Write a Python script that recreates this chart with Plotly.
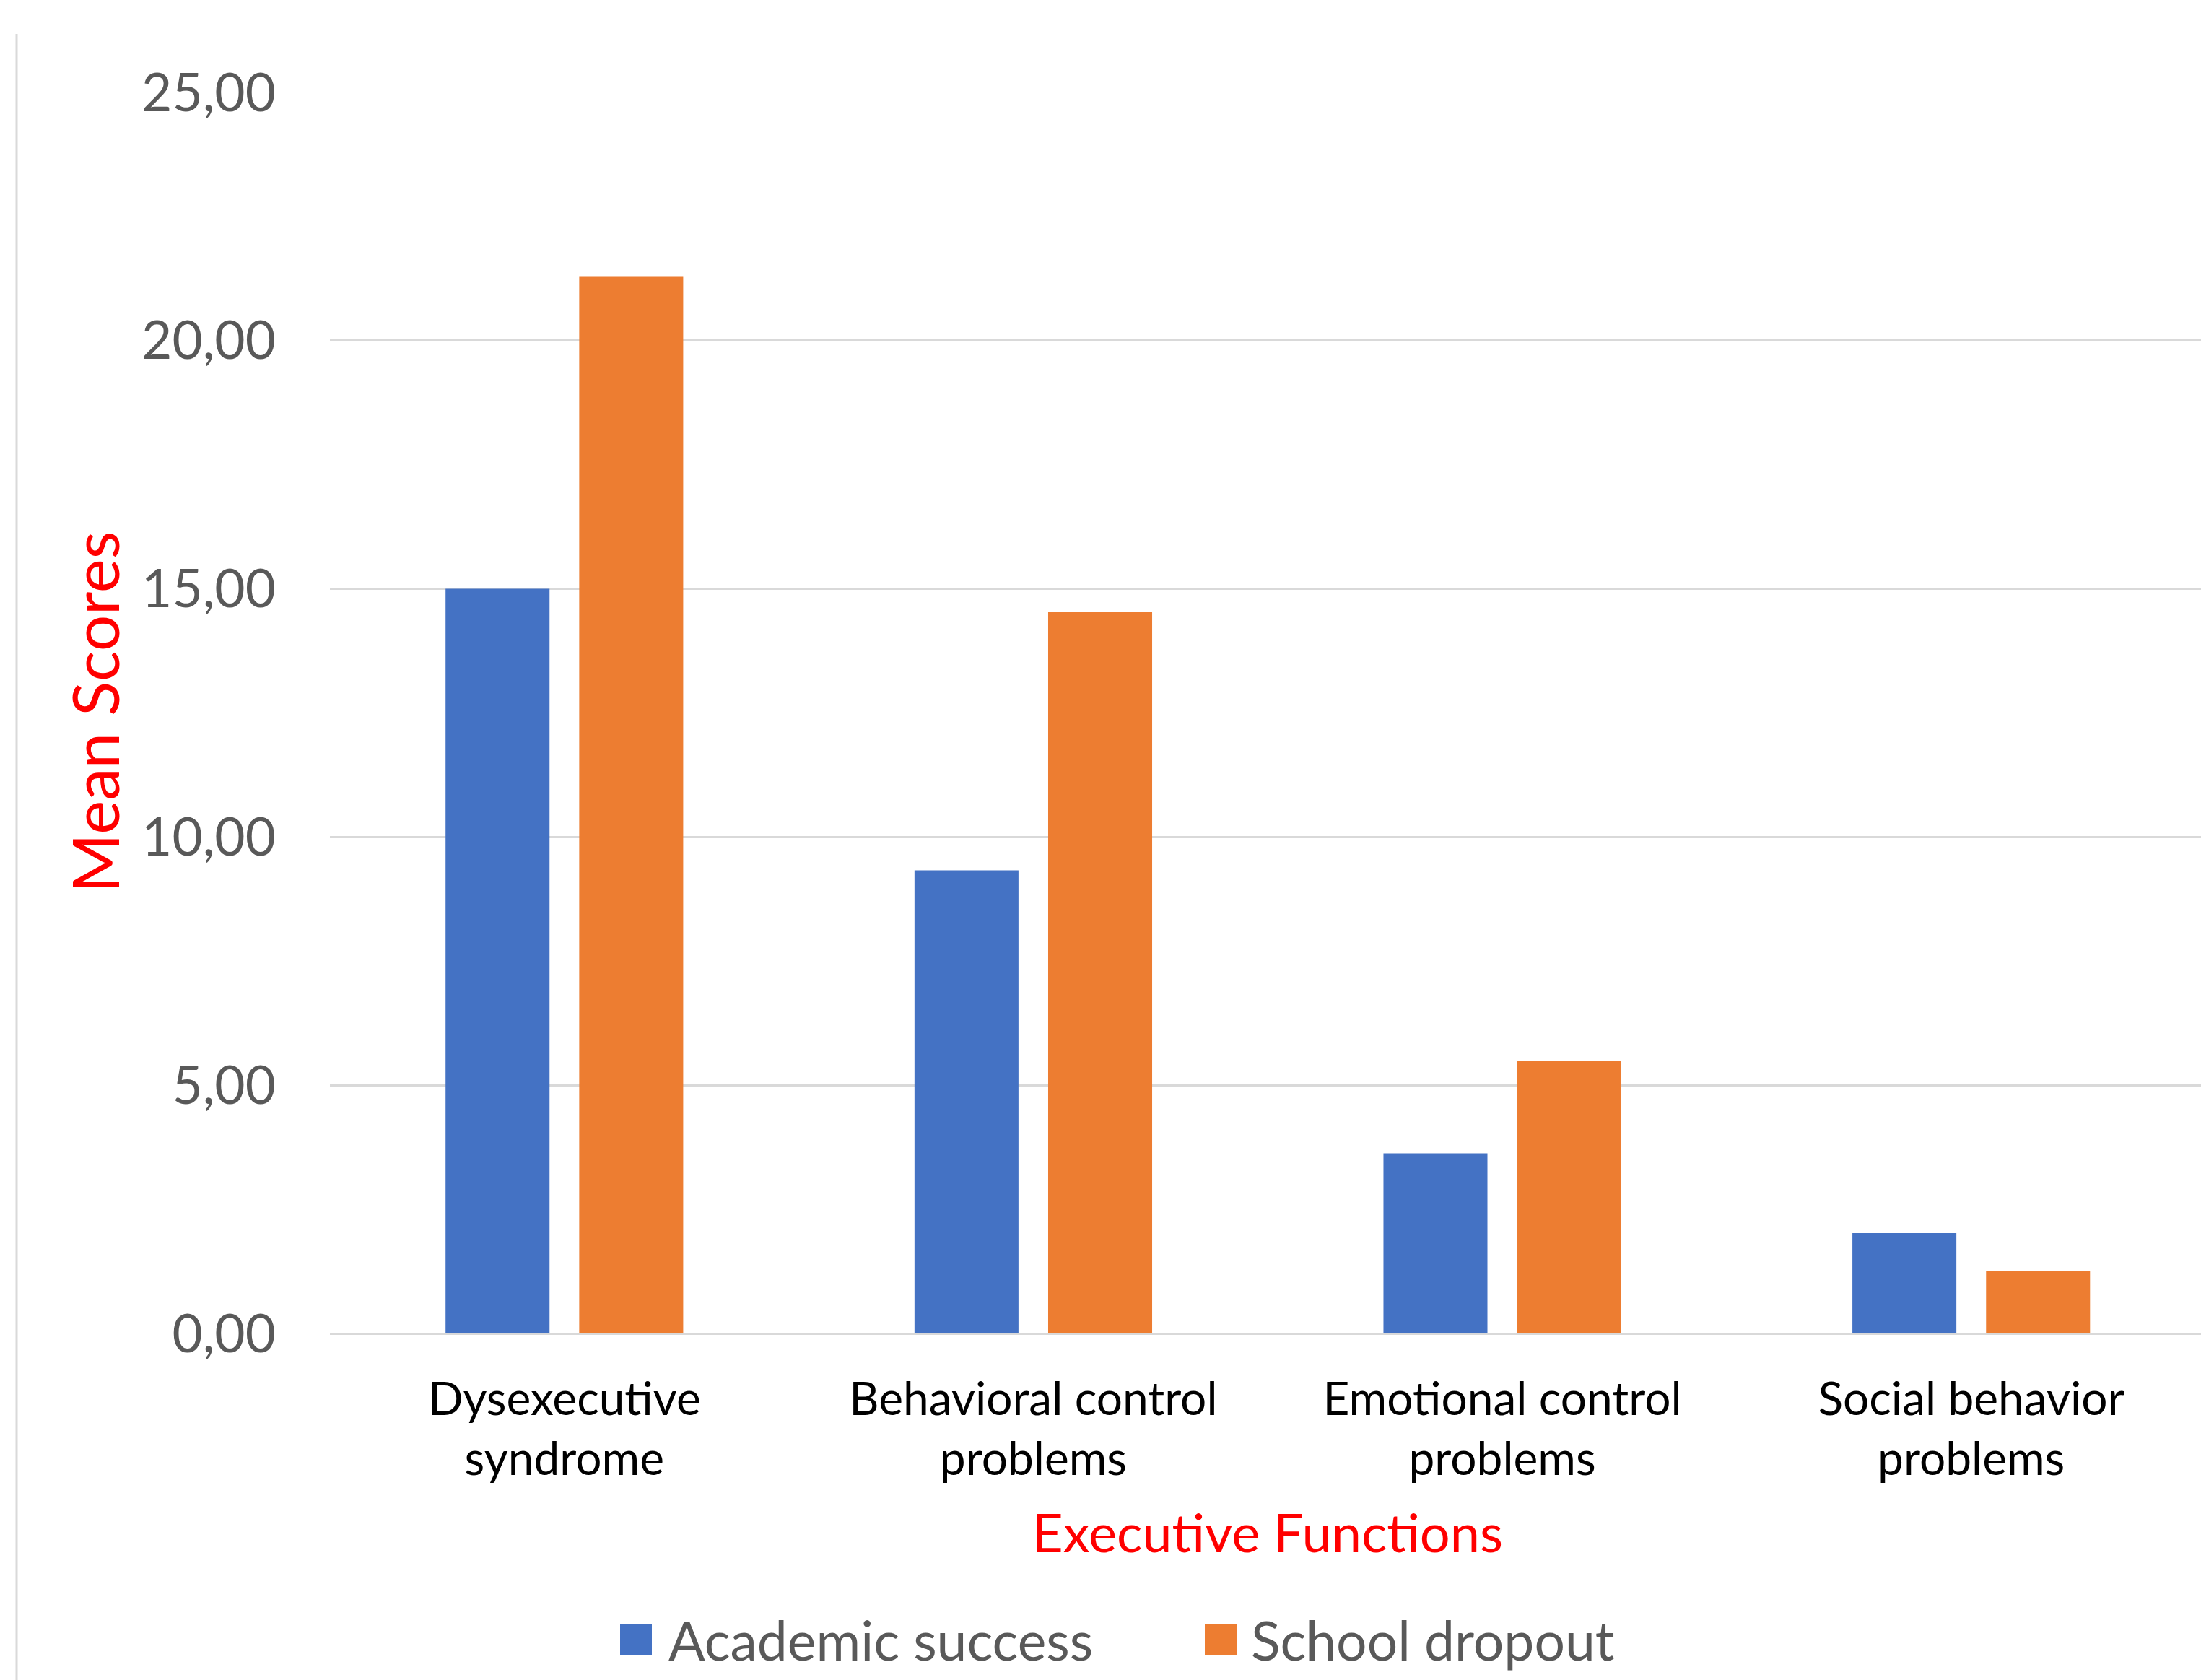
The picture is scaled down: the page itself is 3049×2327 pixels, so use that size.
import plotly.graph_objects as go

categories = ["Dysexecutive<br>syndrome", "Behavioral control<br>problems",
              "Emotional control<br>problems", "Social behavior<br>problems"]
academic_success = [15.00, 9.33, 3.63, 2.02]
school_dropout = [21.30, 14.53, 5.49, 1.25]
series_names = ["Academic success", "School dropout"]
y_tickvals = [0, 5, 10, 15, 20, 25]
y_ticktext = ["0,00", "5,00", "10,00", "15,00", "20,00", "25,00"]

BLUE = "#4472C4"
ORANGE = "#ED7D31"
FONT = "Lato"
W, H = 3049, 2327
L, R, T, B = 457, 0, 128, 480
PW, PH = W - L - R, H - T - B

fig = go.Figure()
fig.add_trace(go.Bar(x=categories, y=academic_success, name=series_names[0],
                     marker=dict(color=BLUE, line=dict(width=0)), showlegend=False))
fig.add_trace(go.Bar(x=categories, y=school_dropout, name=series_names[1],
                     marker=dict(color=ORANGE, line=dict(width=0)), showlegend=False))

def px_x(p):
    return (p - L) / PW

def px_y(p):
    return (H - B - p) / PH

shapes = [
    # left chart-area border (cropped)
    dict(type="line", xref="paper", yref="paper", x0=px_x(23), x1=px_x(23),
         y0=px_y(47), y1=px_y(H + 5), line=dict(color="#D9D9D9", width=3)),
    # legend swatches
    dict(type="rect", xref="paper", yref="paper", x0=px_x(859), x1=px_x(903),
         y0=px_y(2293), y1=px_y(2249), fillcolor=BLUE, line=dict(width=0)),
    dict(type="rect", xref="paper", yref="paper", x0=px_x(1669), x1=px_x(1713),
         y0=px_y(2293), y1=px_y(2249), fillcolor=ORANGE, line=dict(width=0)),
]

annotations = [
    dict(text="Mean Scores", xref="paper", yref="paper", x=px_x(130), y=px_y(987),
         xanchor="center", yanchor="middle", textangle=-90, showarrow=False,
         font=dict(family=FONT, size=89, color="#FF0000")),
    dict(text="Executive Functions", xref="paper", yref="paper", x=px_x(1756), y=px_y(2121),
         xanchor="center", yanchor="middle", showarrow=False,
         font=dict(family=FONT, size=74, color="#FF0000")),
    dict(text=series_names[0], xref="paper", yref="paper", x=px_x(924), y=px_y(2271),
         xanchor="left", yanchor="middle", showarrow=False,
         font=dict(family=FONT, size=75, color="#595959")),
    dict(text=series_names[1], xref="paper", yref="paper", x=px_x(1731), y=px_y(2271),
         xanchor="left", yanchor="middle", showarrow=False,
         font=dict(family=FONT, size=75, color="#595959")),
]

fig.update_layout(
    width=W, height=H,
    margin=dict(l=L, r=R, t=T, b=B, pad=0),
    paper_bgcolor="white", plot_bgcolor="white",
    barmode="group", bargap=0.43, bargroupgap=0.222,
    font=dict(family=FONT),
    shapes=shapes, annotations=annotations,
    showlegend=False,
)
fig.update_xaxes(
    range=[-0.5, 3.49], showgrid=False, zeroline=False, showline=False,
    ticks="", tickfont=dict(family=FONT, size=64, color="#000000"),
    ticklabelstandoff=48,
)
fig.update_yaxes(
    range=[0, 25], tickvals=y_tickvals, ticktext=y_ticktext,
    showgrid=True, gridcolor="#D9D9D9", gridwidth=3,
    zeroline=True, zerolinecolor="#D9D9D9", zerolinewidth=3,
    showline=False, ticks="",
    tickfont=dict(family=FONT, size=73, color="#595959"),
    ticklabelstandoff=74,
)

fig.write_html("out.html")
